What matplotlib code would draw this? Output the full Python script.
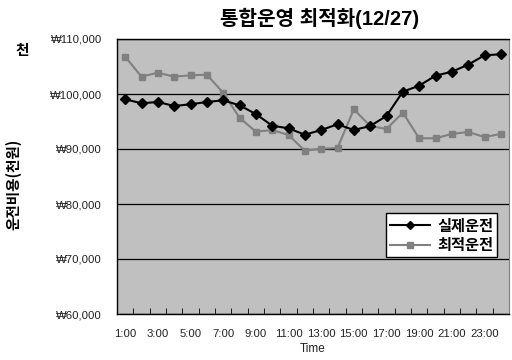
import numpy as np
import matplotlib
matplotlib.use("Agg")
import matplotlib.pyplot as plt
from matplotlib.font_manager import FontProperties
from matplotlib.ticker import FuncFormatter, MultipleLocator, FixedLocator

FONTS = ["Liberation Sans", "Noto Sans CJK KR", "DejaVu Sans"]
plt.rcParams["font.family"] = FONTS

hours = [f"{h}:00" for h in range(1, 25)]
actual = [99040, 98310, 98550, 97820, 98130, 98550, 98850, 97950, 96360, 94240,
          93760, 92600, 93450, 94490, 93450, 94180, 96000, 100420, 101510, 103330,
          104050, 105330, 107040, 107220]
optimal = [106780, 103150, 103870, 103150, 103400, 103510, 100240, 95690, 93150, 93450,
           92550, 89690, 90050, 90180, 97220, 94180, 93640, 96600, 91950, 91950,
           92730, 93090, 92180, 92730]

fig = plt.figure(figsize=(5.12, 3.6), dpi=100)
ax = fig.add_axes([117 / 512, 1 - 314 / 360, 392 / 512, 275 / 360])
ax.set_facecolor("#c0c0c0")

x = np.arange(len(hours))
ax.plot(x, actual, color="black", lw=1.5, marker="D", ms=5, label="실제운전", zorder=3)
ax.plot(x, optimal, color="#808080", lw=1.5, marker="s", ms=5, label="최적운전", zorder=2)

ax.set_xlim(-0.5, len(hours) - 0.5)
ax.set_ylim(60000, 110000)
ax.yaxis.set_major_locator(MultipleLocator(10000))
ax.yaxis.set_major_formatter(FuncFormatter(lambda v, _: f"\u20a9{v:,.0f}"))
ax.grid(axis="y", color="black", lw=0.9)
ax.set_axisbelow(True)

ax.set_xticks(x[::2])
ax.set_xticklabels(hours[::2])
ax.xaxis.set_minor_locator(FixedLocator(np.arange(-0.5, len(hours), 1.0)))
ax.tick_params(axis="x", which="major", length=0, pad=11, labelsize=8.2, colors="#222222")
ax.tick_params(axis="x", which="minor", direction="in", length=4, color="black")
ax.tick_params(axis="y", length=0, pad=11, labelsize=8.2, colors="#222222")

for side in ("left", "bottom", "top"):
    ax.spines[side].set_color("black")
    ax.spines[side].set_linewidth(1.0)
ax.spines["right"].set_color("#808080")
ax.spines["right"].set_linewidth(0.8)

ax.set_xlabel("Time", fontsize=8.5, color="#222222", labelpad=3)
bold_kr = FontProperties(family=["Noto Sans CJK KR", "DejaVu Sans"], weight="black", size=10.5)
fig.text(0.025, 176 / 360, "운전비용(천원)", rotation=90, ha="center", va="center",
         fontproperties=bold_kr)
fig.text(22 / 512, 1 - 50 / 360, "천", ha="center", va="center", fontproperties=bold_kr)
fig.text(320 / 512, 1 - 18 / 360, "통합운영 최적화(12/27)", ha="center", va="center",
         fontsize=14.5, fontweight="bold", family=FONTS)

leg = ax.legend(loc="lower right", bbox_to_anchor=(0.99, 0.18), frameon=True,
                fancybox=False, framealpha=1, edgecolor="black", handlelength=2.6,
                borderpad=0.25, labelspacing=0.25, handletextpad=0.5, markerscale=0.8,
                prop=FontProperties(family=["Noto Sans CJK KR", "DejaVu Sans"],
                                    weight="black", size=11))
leg.get_frame().set_linewidth(1.0)

fig.savefig("out.png", dpi=100)
